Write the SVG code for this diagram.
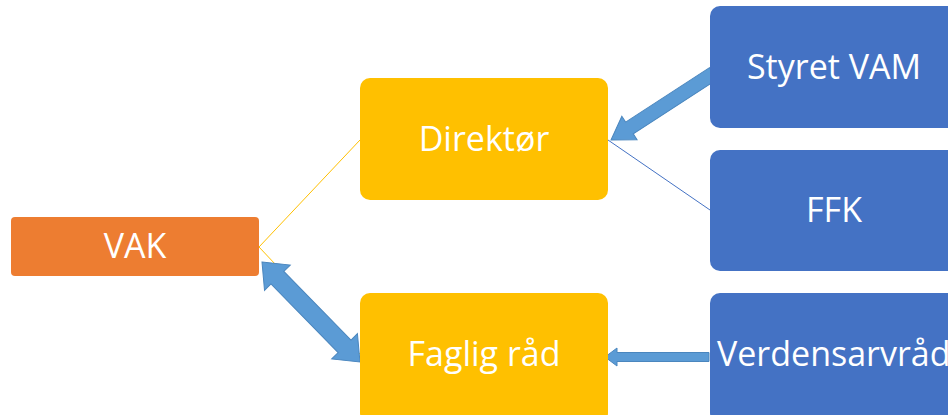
<svg xmlns="http://www.w3.org/2000/svg" width="948" height="415" viewBox="0 0 948 415">
<style>
.lbl{font-family:"Open Sans","Liberation Sans",sans-serif;font-size:34px;fill:#fff;text-anchor:middle;dominant-baseline:central}
.y{fill:#FFC000}
.b{fill:#4472C4}
.o{fill:#ED7D31}
.arr{fill:#5B9BD5;stroke:#4A86BE;stroke-width:1}
</style>
<rect width="948" height="415" fill="#fff"/>
<g id="connectors">
<line x1="259" y1="247" x2="360" y2="140" stroke="#FFC000" stroke-width="1"/>
<line x1="259" y1="247" x2="360" y2="354" stroke="#FFC000" stroke-width="1"/>
<line x1="608" y1="140" x2="710" y2="210" stroke="#4472C4" stroke-width="1"/>
<polygon class="arr" transform="translate(611,140) rotate(-33)" points="0,0 22,-14 22,-7 122,-7 122,7 22,7 22,14"/>
<polygon class="arr" transform="translate(262,262) rotate(45.6)" points="0,0 22,-18 22,-9 118,-9 118,-18 140,0 118,18 118,9 22,9 22,18"/>
<polygon class="arr" transform="translate(605,357)" points="0,0 12,-9 12,-4.5 104,-4.5 104,4.5 12,4.5 12,9"/>
</g>
<g id="vak"><rect class="o" x="11" y="217" width="248" height="59" rx="4"/><text class="lbl" x="135" y="245">VAK</text></g>
<g id="direktor"><rect class="y" x="360" y="78" width="248" height="122" rx="10"/><text class="lbl" x="484" y="138">Direktør</text></g>
<g id="faglig"><rect class="y" x="360" y="293" width="248" height="130" rx="10"/><text class="lbl" x="484" y="353">Faglig råd</text></g>
<g id="styret"><rect class="b" x="710" y="6" width="250" height="122" rx="10"/><text class="lbl" x="834" y="66">Styret VAM</text></g>
<g id="ffk"><rect class="b" x="710" y="150" width="250" height="121" rx="10"/><text class="lbl" x="834" y="209">FFK</text></g>
<g id="verdensarv"><rect class="b" x="710" y="293" width="250" height="130" rx="10"/><text class="lbl" x="717" y="353" style="text-anchor:start">Verdensarvråd</text></g>
</svg>
